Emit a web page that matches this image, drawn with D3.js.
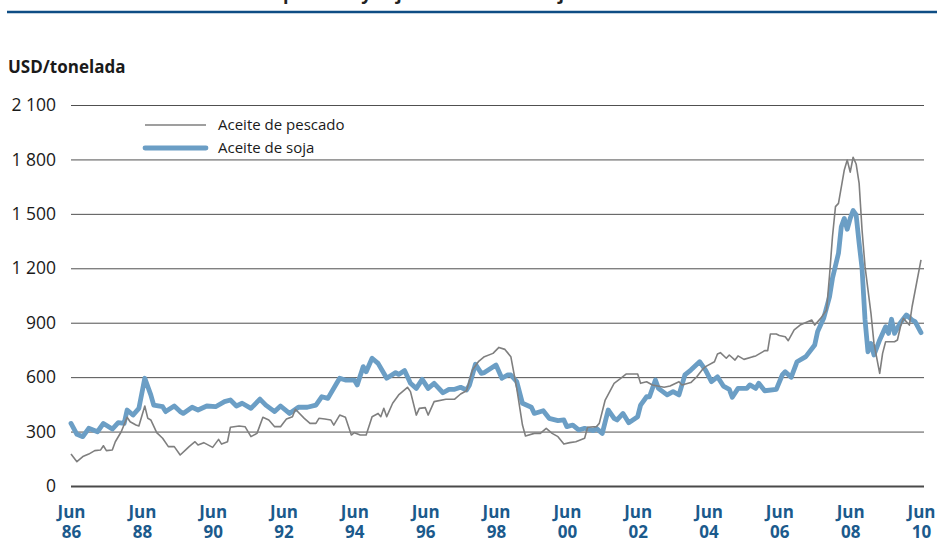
<!DOCTYPE html>
<html>
<head>
<meta charset="utf-8">
<script src="https://cdn.jsdelivr.net/npm/d3@7"></script>
<style>
  html, body { margin: 0; padding: 0; background: #fff; }
  svg { display: block; font-family: "Open Sans", "Noto Sans", sans-serif; }
</style>
</head>
<body>
<svg id="chart" width="937" height="541"></svg>
<script>
// Monthly prices, USD per tonne
const pescadoDates = [
  "1986-06","1986-08","1986-10","1986-12","1987-02","1987-04","1987-05","1987-06","1987-08","1987-09",
  "1987-11","1988-01","1988-02","1988-04","1988-05","1988-07","1988-08","1988-09","1988-11","1989-01",
  "1989-03","1989-05","1989-07","1989-09","1989-10","1989-12","1990-01","1990-03","1990-06","1990-08",
  "1990-09","1990-11","1990-12","1991-03","1991-05","1991-07","1991-09","1991-11","1992-01","1992-03",
  "1992-05","1992-06","1992-07","1992-09","1992-10","1993-01","1993-03","1993-05","1993-06","1993-08",
  "1993-10","1993-11","1994-01","1994-03","1994-05","1994-06","1994-08","1994-10","1994-12","1995-02",
  "1995-03","1995-04","1995-05","1995-07","1995-09","1995-12","1996-01","1996-03","1996-04","1996-06",
  "1996-07","1996-09","1997-01","1997-04","1997-06","1997-08","1997-10","1997-12","1998-02","1998-05",
  "1998-07","1998-09","1998-11","1999-01","1999-03","1999-04","1999-07","1999-09","1999-11","2000-01",
  "2000-03","2000-05","2000-07","2000-09","2000-12","2001-01","2001-04","2001-05","2001-07","2001-10",
  "2001-12","2002-02","2002-06","2002-07","2002-09","2002-11","2003-03","2003-05","2003-08","2003-09",
  "2003-12","2004-02","2004-04","2004-05","2004-08","2004-09","2004-10","2004-12","2005-01","2005-03",
  "2005-04","2005-06","2005-09","2005-10","2006-01","2006-02","2006-03","2006-05","2006-06","2006-08",
  "2006-09","2006-11","2007-01","2007-05","2007-06","2007-08","2007-10","2007-11","2007-12","2008-01",
  "2008-02","2008-04","2008-05","2008-06","2008-07","2008-08","2008-09","2008-10","2008-11","2009-01",
  "2009-02","2009-04","2009-05","2009-06","2009-09","2009-10","2009-11","2009-12","2010-02","2010-03",
  "2010-06"
];
const pescadoValues = [
  176,134,162,176,195,198,222,195,198,244,
  299,379,354,336,331,441,373,364,294,263,
  217,217,171,202,217,244,226,239,213,257,
  231,244,324,331,327,272,290,379,364,327,
  327,349,369,382,423,373,345,345,373,369,
  364,336,391,379,281,294,281,281,382,400,
  382,428,382,456,502,544,520,391,428,432,
  391,465,478,479,507,525,639,685,713,731,
  764,753,713,538,336,276,290,290,318,290,
  272,231,239,244,263,324,327,345,474,566,
  590,617,617,566,575,557,544,551,575,557,
  570,602,643,658,685,728,735,704,722,694,
  717,698,713,717,746,746,838,838,830,823,
  801,860,887,915,887,924,970,1163,1374,1540,
  1558,1742,1797,1730,1812,1775,1668,1411,1209,952,
  786,621,731,795,795,805,878,924,887,988,
  1246
];

const sojaDates = [
  "1986-06","1986-08","1986-10","1986-12","1987-03","1987-05","1987-08","1987-10","1987-12","1988-01",
  "1988-03","1988-05","1988-07","1988-09","1988-10","1989-01","1989-02","1989-05","1989-07","1989-08",
  "1989-11","1990-01","1990-04","1990-07","1990-10","1990-12","1991-02","1991-04","1991-07","1991-10",
  "1991-12","1992-03","1992-05","1992-08","1992-11","1993-02","1993-05","1993-07","1993-09","1993-12",
  "1994-01","1994-03","1994-06","1994-07","1994-09","1994-10","1994-12","1995-02","1995-05","1995-08",
  "1995-09","1995-11","1996-01","1996-03","1996-05","1996-07","1996-09","1996-12","1997-02","1997-04",
  "1997-06","1997-08","1997-09","1997-11","1998-01","1998-02","1998-06","1998-08","1998-10","1998-11",
  "1999-01","1999-03","1999-06","1999-07","1999-10","1999-12","2000-03","2000-05","2000-06","2000-08",
  "2000-10","2000-12","2001-03","2001-04","2001-06","2001-08","2001-10","2001-11","2002-01","2002-03",
  "2002-06","2002-07","2002-09","2002-10","2002-12","2003-01","2003-04","2003-06","2003-08","2003-10",
  "2003-12","2004-03","2004-05","2004-07","2004-09","2004-11","2005-01","2005-02","2005-04","2005-07",
  "2005-08","2005-10","2005-11","2006-01","2006-05","2006-07","2006-08","2006-10","2006-12","2007-03",
  "2007-06","2007-07","2007-09","2007-11","2007-12","2008-02","2008-03","2008-04","2008-05","2008-06",
  "2008-07","2008-08","2008-09","2008-10","2008-11","2008-12","2009-01","2009-02","2009-04","2009-06",
  "2009-07","2009-08","2009-09","2009-11","2010-01","2010-03","2010-04","2010-06"
];
const sojaValues = [
  345,285,272,318,299,345,314,349,345,419,
  391,428,594,502,446,437,410,441,410,400,
  434,419,441,437,465,474,441,456,428,479,
  446,410,441,400,434,434,446,492,483,566,
  594,584,584,557,658,630,704,676,594,625,
  615,636,566,538,588,538,566,514,533,533,
  544,529,557,671,621,625,667,594,612,612,
  575,456,434,400,415,373,360,364,327,336,
  309,318,305,318,290,419,373,364,400,349,
  382,446,492,492,584,538,502,520,502,612,
  639,685,639,575,602,551,533,489,538,538,
  557,538,566,525,533,612,630,599,685,713,
  777,851,924,1044,1145,1283,1429,1475,1415,1475,
  1518,1494,1338,1200,915,740,786,722,805,878,
  841,919,841,900,943,915,906,845
];

const yTicks = [0, 300, 600, 900, 1200, 1500, 1800, 2100];
const xTickMonths = ["1986-06","1988-06","1990-06","1992-06","1994-06","1996-06",
                     "1998-06","2000-06","2002-06","2004-06","2006-06","2008-06","2010-06"];

const seriesNames = ["Aceite de pescado", "Aceite de soja"];
const titleText = "Precios del aceite de pescado y soja en los Países Bajos";
const unitLabel = "USD/tonelada";

const parse = d3.utcParse("%Y-%m");
const svg = d3.select("#chart");

const plotLeft = 71, plotRight = 924, plotTop = 105, plotBottom = 486;
const x = d3.scaleUtc()
  .domain([parse("1986-06"), parse("2010-06")])
  .range([71, 921]);
const y = d3.scaleLinear().domain([0, 2100]).range([plotBottom, plotTop]);

// Title (sits mostly above the frame) and the rule under it
const title = svg.append("text")
  .attr("y", -0.5)
  .attr("font-size", 18)
  .attr("font-weight", 700)
  .attr("fill", "#222")
  .text(titleText);
const pIdx = titleText.indexOf("pescado");
const offset = title.node().getSubStringLength(0, pIdx);
title.attr("x", 283 - offset);

svg.append("line")
  .attr("x1", 7).attr("x2", 937)
  .attr("y1", 12).attr("y2", 12)
  .attr("stroke", "#0e4d84")
  .attr("stroke-width", 2.6);

// Unit label
svg.append("text")
  .attr("x", 8).attr("y", 73)
  .attr("font-size", 17)
  .attr("font-weight", 700)
  .attr("fill", "#1a1a1a")
  .text(unitLabel);

// Horizontal gridlines and y labels
const fmt = v => d3.format(",")(v).replace(/,/g, " ");
const yAxis = d3.axisLeft(y)
  .tickValues(yTicks)
  .tickSize(-(plotRight - plotLeft))
  .tickPadding(15)
  .tickFormat(fmt);
const gy = svg.append("g")
  .attr("transform", `translate(${plotLeft},0)`)
  .call(yAxis);
gy.select(".domain").remove();
gy.selectAll(".tick line")
  .attr("stroke", d => d === 0 ? "#4a4a4a" : "#505050")
  .attr("stroke-width", d => d === 0 ? 1.8 : 1);
gy.selectAll(".tick text")
  .attr("font-size", 17.5)
  .attr("fill", "#1a1a1a")
  .attr("font-family", "\"Open Sans\", sans-serif");

// X labels: month on one line, two-digit year below
const xAxis = d3.axisBottom(x)
  .tickValues(xTickMonths.map(parse))
  .tickSize(0)
  .tickFormat(() => "");
const gx = svg.append("g")
  .attr("transform", `translate(0,${plotBottom})`)
  .call(xAxis);
gx.select(".domain").remove();
gx.selectAll(".tick text").remove();
gx.selectAll(".tick").each(function(d) {
  const g = d3.select(this);
  [["Jun", 32], [d3.utcFormat("%y")(d), 52]].forEach(([txt, yy]) => {
    g.append("text")
      .attr("x", 0).attr("y", yy)
      .attr("text-anchor", "middle")
      .attr("font-size", 17)
      .attr("font-weight", 700)
      .attr("fill", "#1b5a8c")
      .attr("font-family", "\"Open Sans\", sans-serif")
      .text(txt);
  });
});

// Series
const pescado = pescadoDates.map((d, i) => ({ date: parse(d), value: pescadoValues[i] }));
const soja = sojaDates.map((d, i) => ({ date: parse(d), value: sojaValues[i] }));
const line = d3.line().x(d => x(d.date)).y(d => y(d.value));

svg.append("path")
  .datum(soja)
  .attr("fill", "none")
  .attr("stroke", "#6b9ec5")
  .attr("stroke-width", 4.8)
  .attr("stroke-linejoin", "round")
  .attr("stroke-linecap", "round")
  .attr("d", line);

svg.append("path")
  .datum(pescado)
  .attr("fill", "none")
  .attr("stroke", "#7f7f7f")
  .attr("stroke-width", 1.6)
  .attr("stroke-linejoin", "round")
  .attr("d", line);

// Legend
const legend = svg.append("g");
const legendRows = [
  { name: seriesNames[0], color: "#7f7f7f", width: 1.6, y: 125 },
  { name: seriesNames[1], color: "#6b9ec5", width: 4.8, y: 148 }
];
legendRows.forEach(r => {
  legend.append("line")
    .attr("x1", 145).attr("x2", 206)
    .attr("y1", r.y).attr("y2", r.y)
    .attr("stroke", r.color)
    .attr("stroke-width", r.width)
    .attr("stroke-linecap", r.width > 2 ? "round" : "butt");
  legend.append("text")
    .attr("x", 218).attr("y", r.y + 5)
    .attr("font-size", 15)
    .attr("fill", "#1a1a1a")
    .text(r.name);
});
</script>
</body>
</html>
